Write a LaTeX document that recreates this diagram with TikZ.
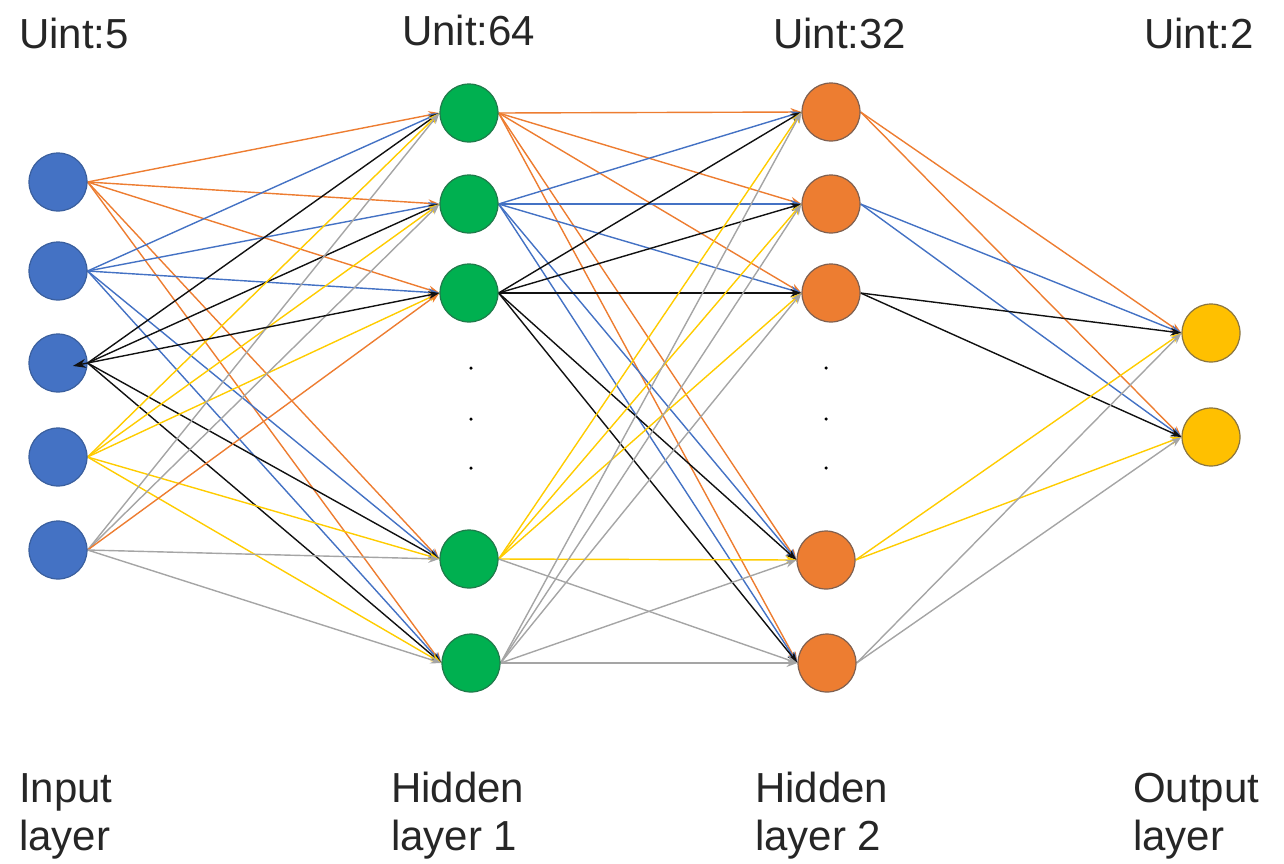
\documentclass[tikz,border=0pt]{standalone}
\usepackage{fontspec}
\setmainfont{Liberation Sans}
\usetikzlibrary{arrows.meta,backgrounds}
\definecolor{nblue}{HTML}{4472C4}
\definecolor{nbluebd}{HTML}{3A5F9E}
\definecolor{ngreen}{HTML}{00B050}
\definecolor{ngreenbd}{HTML}{1F7A4A}
\definecolor{norange}{HTML}{ED7D31}
\definecolor{norangebd}{HTML}{7F6050}
\definecolor{nyellow}{HTML}{FFC000}
\definecolor{nyellowbd}{HTML}{8A7540}
\definecolor{eorange}{HTML}{ED7D31}
\definecolor{eblue}{HTML}{4472C4}
\definecolor{eblack}{HTML}{111111}
\definecolor{eyellow}{HTML}{FFCC00}
\definecolor{egray}{HTML}{A5A5A5}
\tikzset{
  neuron/.style={circle,minimum size=58pt,inner sep=0pt,line width=1.2pt},
  inneuron/.style={neuron,fill=nblue,draw=nbluebd},
  h1neuron/.style={neuron,fill=ngreen,draw=ngreenbd},
  h2neuron/.style={neuron,fill=norange,draw=norangebd},
  outneuron/.style={neuron,fill=nyellow,draw=nyellowbd},
  edge/.style={line width=1.4pt,-{Stealth[length=11pt,width=8pt]}},
  lbl/.style={anchor=base west,inner sep=0pt,font=\fontsize{42}{48}\selectfont,text=black!85},
  vdot/.style={circle,fill=black,inner sep=0pt,minimum size=3.5pt}
}
\begin{document}
\begin{tikzpicture}[x=1pt,y=-1pt]
\useasboundingbox (0,0) rectangle (1284,863);
% input layer
\node[inneuron] (i1) at (58,182) {};
\node[inneuron] (i2) at (58,271) {};
\node[inneuron] (i3) at (58,363) {};
\node[inneuron] (i4) at (58,457) {};
\node[inneuron] (i5) at (58,550) {};
% hidden layer 1
\node[h1neuron] (h1) at (469,113) {};
\node[h1neuron] (h2) at (469,204) {};
\node[h1neuron] (h3) at (469,293) {};
\node[h1neuron] (h4) at (469,559) {};
\node[h1neuron] (h5) at (471,663) {};
% hidden layer 2
\node[h2neuron] (g1) at (831,112) {};
\node[h2neuron] (g2) at (831,204) {};
\node[h2neuron] (g3) at (831,293) {};
\node[h2neuron] (g4) at (826,560) {};
\node[h2neuron] (g5) at (827,663) {};
% output layer
\node[outneuron] (o1) at (1211,333) {};
\node[outneuron] (o2) at (1211,437) {};
% ellipsis dots
\node[vdot] (d1) at (471,368) {};
\node[vdot] (d2) at (471,419) {};
\node[vdot] (d3) at (471,468) {};
\node[vdot] (e1) at (826,368) {};
\node[vdot] (e2) at (826,419) {};
\node[vdot] (e3) at (826,468) {};
% connections
\begin{scope}[on background layer]
\foreach \s/\t/\c in {
  1/1/eorange,1/2/eorange,1/3/eorange,1/4/eorange,1/5/eorange,
  2/1/eblue,2/2/eblue,2/3/eblue,2/4/eblue,2/5/eblue,
  3/1/eblack,3/2/eblack,3/4/eblack,3/5/eblack,
  4/1/eyellow,4/2/eyellow,4/3/eyellow,4/4/eyellow,4/5/eyellow,
  5/1/egray,5/2/egray,5/3/eorange,5/4/egray,5/5/egray}{
  \draw[edge,draw=\c,fill=\c] (i\s.east) -- (h\t.west);
}
\foreach \s/\t/\c in {
  1/1/eorange,1/2/eorange,1/3/eorange,1/4/eorange,1/5/eorange,
  2/1/eblue,2/2/eblue,2/3/eblue,2/4/eblue,2/5/eblue,
  3/1/eblack,3/2/eblack,3/3/eblack,3/4/eblack,3/5/eblack,
  4/1/eyellow,4/2/eyellow,4/3/eyellow,4/4/eyellow,4/5/egray,
  5/1/egray,5/2/egray,5/3/egray,5/4/egray,5/5/egray}{
  \draw[edge,draw=\c,fill=\c] (h\s.east) -- (g\t.west);
}
\foreach \s/\c in {1/eorange,2/eblue,3/eblack,4/eyellow,5/egray}{
  \foreach \t in {1,2}{
    \draw[edge,draw=\c,fill=\c] (g\s.east) -- (o\t.west);
  }
}
\end{scope}
\draw[edge,draw=eblack,fill=eblack,{Stealth[length=13pt,width=9pt]}-{Stealth[length=11pt,width=8pt]},shorten <=-15pt] (i3.east) -- (h3.west);
% labels
\node[lbl] (u1) at (19,48) {Uint:5};
\node[lbl] (u2) at (402,45) {Unit:64};
\node[lbl] (u3) at (773,48) {Uint:32};
\node[lbl] (u4) at (1144,48) {Uint:2};
\node[lbl] (l1a) at (19,802) {Input};
\node[lbl] (l1b) at (19,850) {layer};
\node[lbl] (l2a) at (391,802) {Hidden};
\node[lbl] (l2b) at (391,850) {layer 1};
\node[lbl] (l3a) at (755,802) {Hidden};
\node[lbl] (l3b) at (755,850) {layer 2};
\node[lbl] (l4a) at (1133,802) {Output};
\node[lbl] (l4b) at (1133,850) {layer};
\end{tikzpicture}
\end{document}
